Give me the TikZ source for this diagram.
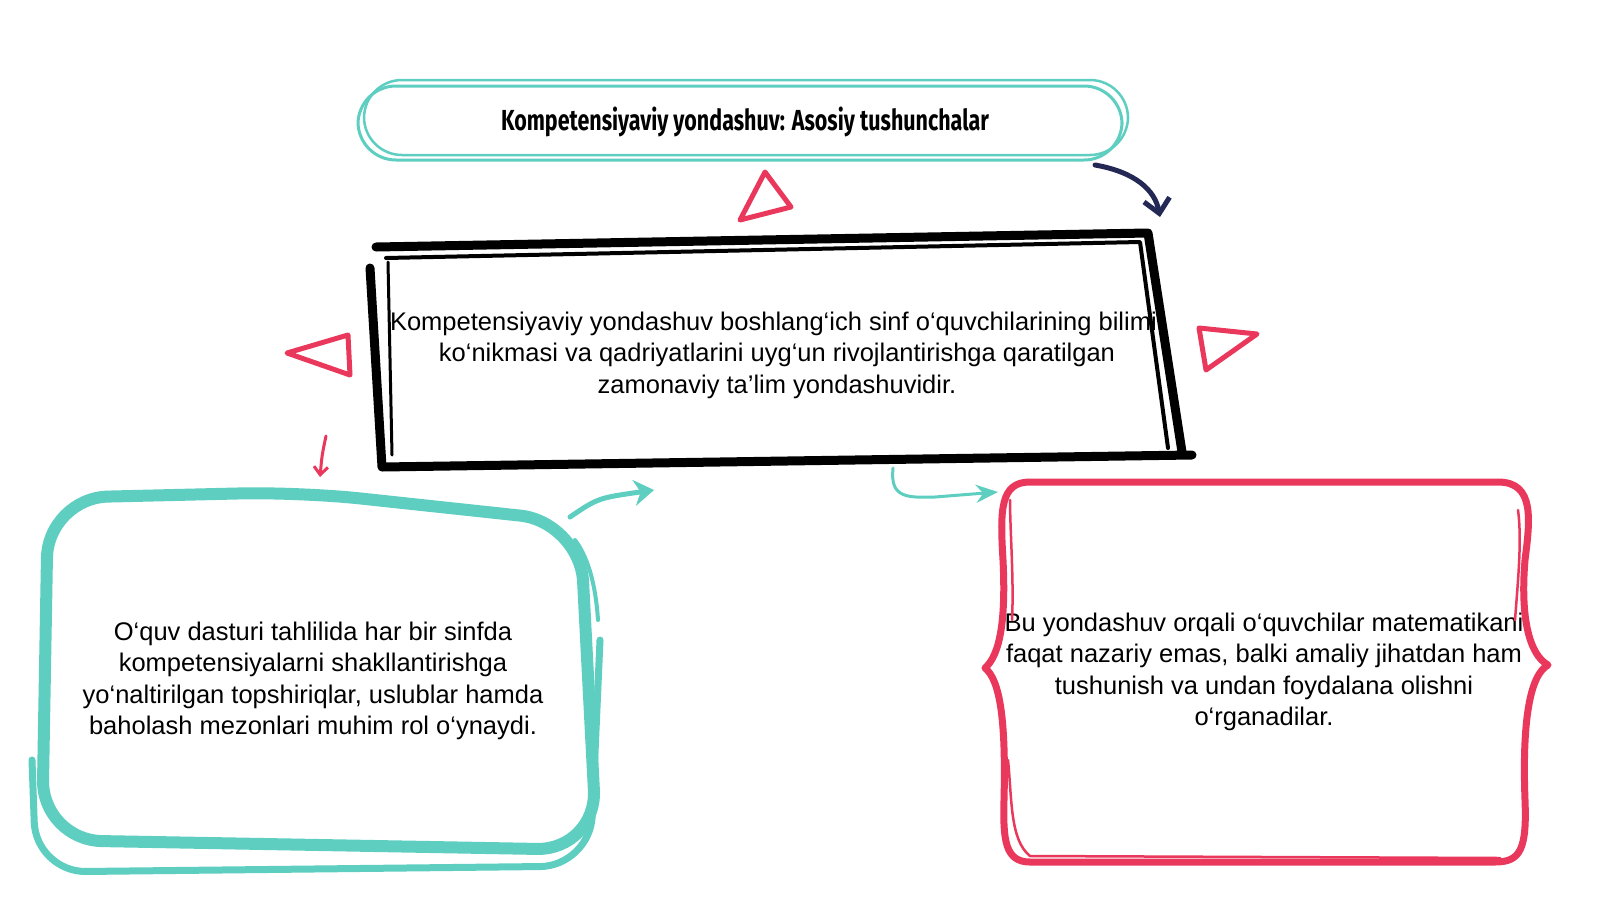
\documentclass[tikz,border=0pt]{standalone}
\usepackage{fontspec}
\setmainfont{Liberation Sans}
\newfontfamily\headfont[FakeStretch=0.74]{Fira Sans}
\usetikzlibrary{arrows.meta,calc}
\definecolor{sketchteal}{RGB}{94,206,193}
\definecolor{sketchred}{RGB}{233,56,92}
\definecolor{sketchnavy}{RGB}{36,40,84}

\begin{document}
\begin{tikzpicture}[x=1pt,y=-1pt,
  txt/.style={align=center,inner sep=0pt,font=\fontsize{25.5}{31.5}\selectfont},
  tealline/.style={draw=sketchteal,line cap=round,line join=round},
  redline/.style={draw=sketchred,line cap=round,line join=round},
  inkline/.style={draw=black,line cap=round,line join=round}]
\useasboundingbox[fill=white] (0,0) rectangle (1600,900);

% title pill
\draw[tealline,line width=3,rounded corners=38] (358,86) rectangle (1122,160);
\draw[tealline,line width=2.5,rounded corners=38] (364,80) rectangle (1128,155);
\node[font=\headfont\bfseries\fontsize{29}{34}\selectfont] (title) at (745,122) {Kompetensiyaviy yondashuv: Asosiy tushunchalar};

% middle box
\node[txt] (core) at (777,355) {Kompetensiyaviy yondashuv boshlang‘ich sinf o‘quvchilarining bilimi,\\
ko‘nikmasi va qadriyatlarini uyg‘un rivojlantirishga qaratilgan\\
zamonaviy ta’lim yondashuvidir.};
\draw[inkline,line width=9] (376,247) -- (1148,233) -- (1182,452);
\draw[inkline,line width=9] (1192,455) -- (382,467) -- (370,268);
\draw[inkline,line width=4] (386,258) -- (1140,242) -- (1168,448);
\draw[inkline,line width=3] (388,262) -- (392,455);

% red triangles
\draw[redline,line width=5] (765,172) -- (791,207) -- (740,220) -- cycle;
\draw[redline,line width=5] (287,353) -- (348,335) -- (350,375) -- cycle;
\draw[redline,line width=5] (1199,328) -- (1257,334) -- (1206,370) -- cycle;

% arrows
\coordinate (n1) at (1095,165);
\coordinate (n2) at (1160,217);
\draw[sketchnavy,line width=5,line cap=round,-{Straight Barb[length=14,width=26]}] (n1) .. controls (1135,172) and (1155,190) .. (n2);
\coordinate (r1) at (326,436);
\coordinate (r2) at (320,477);
\draw[sketchred,line width=3,line cap=round,-{Straight Barb[length=8,width=14]}] (r1) .. controls (322,455) .. (r2);
\coordinate (t1) at (570,517);
\coordinate (t2) at (654,490);
\draw[sketchteal,line width=5,line cap=round,-{Stealth[length=20,width=26]}] (t1) .. controls (598,498) .. (t2);
\coordinate (u1) at (893,468);
\coordinate (u2) at (998,492);
\draw[sketchteal,line width=3,line cap=round,-{Stealth[length=22,width=18]}] (u1) .. controls (890,497) and (905,498) .. (935,497) -- (u2);

% lower left box
\draw[tealline,line width=12,rounded corners=60] (48,498) -- (300,492) -- (580,522) -- (597,850) -- (42,840) -- cycle;
\draw[tealline,line width=4] (575,540) .. controls (590,560) and (596,590) .. (598,620);
\draw[tealline,line width=7,rounded corners=50] (600,640) -- (590,866) -- (36,872) -- (32,760);
\node[txt] (left) at (313,681) {O‘quv dasturi tahlilida har bir sinfda\\
kompetensiyalarni shakllantirishga\\
yo‘naltirilgan topshiriqlar, uslublar hamda\\
baholash mezonlari muhim rol o‘ynaydi.};

% lower right box
\node[txt] (right) at (1264,672) {Bu yondashuv orqali o‘quvchilar matematikani\\
faqat nazariy emas, balki amaliy jihatdan ham\\
tushunish va undan foydalana olishni\\
o‘rganadilar.};
\draw[redline,line width=7] (1030,482) -- (1498,482) .. controls (1535,482) and (1530,520) .. (1525,560) .. controls (1520,620) and (1530,655) .. (1548,665) .. controls (1530,675) and (1522,720) .. (1525,800) .. controls (1527,850) and (1520,862) .. (1495,862) -- (1030,862) .. controls (1005,862) and (1003,840) .. (1004,800) .. controls (1006,720) and (1000,680) .. (985,668) .. controls (1000,655) and (1006,620) .. (1003,560) .. controls (1000,510) and (1000,482) .. cycle;
\draw[redline,line width=2.5] (1010,500) .. controls (1010,530) and (1014,580) .. (1012,620);
\draw[redline,line width=2.5] (1008,760) .. controls (1012,800) and (1010,840) .. (1030,856) -- (1500,858);
\draw[redline,line width=2.5] (1518,510) .. controls (1522,540) and (1518,580) .. (1515,620);
\end{tikzpicture}
\end{document}
